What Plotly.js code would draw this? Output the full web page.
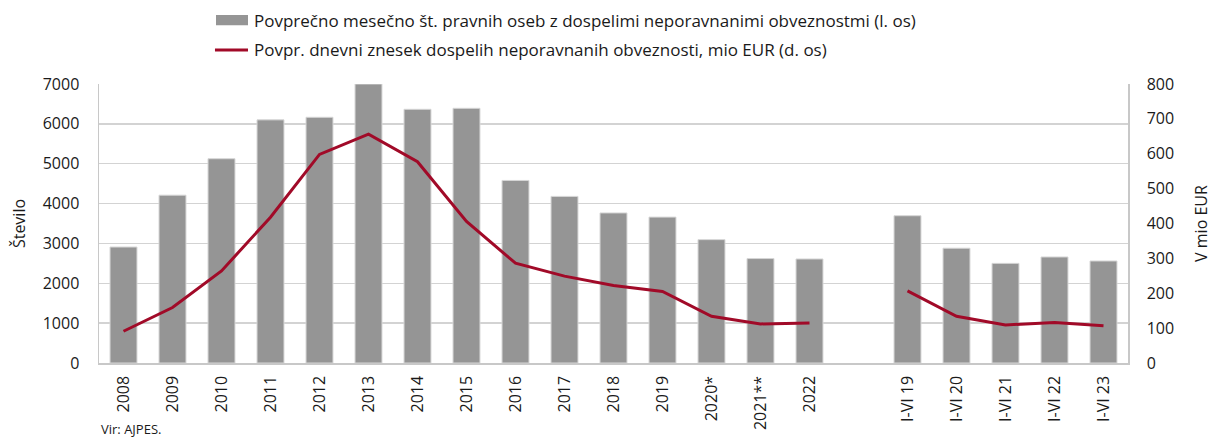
<!DOCTYPE html>
<html>
<head>
<meta charset="utf-8">
<script src="https://cdn.plot.ly/plotly-3.0.1.min.js"></script>
<style>
  html, body { margin: 0; padding: 0; background: #fff; }
  #chart { width: 1213px; height: 439px; }
</style>
</head>
<body>
<div id="chart"></div>
<script>
// categories (one blank slot separates full years from half-years)
var categories = ['2008', '2009', '2010', '2011', '2012', '2013', '2014', '2015', '2016', '2017',
  '2018', '2019', '2020*', '2021**', '2022', ' ', 'I-VI 19', 'I-VI 20', 'I-VI 21', 'I-VI 22', 'I-VI 23'];

// average monthly number of legal entities with unsettled liabilities (left axis)
var stevilo = [2910, 4210, 5125, 6100, 6165, 7000, 6365, 6390, 4580, 4180,
  3765, 3660, 3095, 2620, 2610, null, 3695, 2880, 2500, 2660, 2560];

// average daily amount of unsettled liabilities, mio EUR (right axis)
var znesek = [91, 159, 264, 418, 598, 656, 577, 406, 286, 249,
  222, 205, 134, 112, 115, null, 207, 134, 109, 116, 107];

var legendNames = [
  'Povprečno mesečno št. pravnih oseb z dospelimi neporavnanimi obveznostmi (l. os)',
  'Povpr. dnevni znesek dospelih neporavnanih obveznosti, mio EUR (d. os)'
];

var barCol = '#959595';
var lineCol = '#a10a28';

var bars = {
  x: categories,
  y: stevilo,
  type: 'bar',
  name: legendNames[0],
  marker: { color: barCol, line: { color: '#d6d6d6', width: 1 } }
};

var line = {
  x: categories,
  y: znesek,
  type: 'scatter',
  mode: 'lines',
  yaxis: 'y2',
  name: legendNames[1],
  connectgaps: false,
  line: { color: lineCol, width: 3 }
};

var data = [bars, line];

// legend drawn by hand so the bar key is a wide bar like the original
var legendShapes = [
  { type: 'rect', xref: 'paper', yref: 'paper', x0: 0.1137, x1: 0.1448, y0: 1.211, y1: 1.247,
    fillcolor: barCol, line: { width: 0 } },
  { type: 'line', xref: 'paper', yref: 'paper', x0: 0.1127, x1: 0.1448, y0: 1.122, y1: 1.122,
    line: { color: lineCol, width: 3 } }
];

var txt = { size: 17, color: '#1a1a1a' };
var gridCol = '#d3d3d3';
var layout = {
  width: 1213,
  height: 439,
  margin: { l: 99, r: 85, t: 84, b: 76 },
  paper_bgcolor: '#fff',
  plot_bgcolor: '#fff',
  font: { family: 'Open Sans, Noto Sans, sans-serif', size: 16, color: '#1a1a1a' },
  bargap: 0.45,
  showlegend: false,
  shapes: legendShapes,
  xaxis: {
    type: 'category',
    tickangle: -90,
    ticks: 'outside',
    ticklen: 5,
    tickcolor: 'rgba(0,0,0,0)',
    showline: true,
    linecolor: '#c8c8c8',
    linewidth: 1.5,
    showgrid: false,
    tickfont: { size: 16 }
  },
  yaxis: {
    range: [0, 7000],
    dtick: 1000,
    ticks: 'outside',
    ticklen: 15,
    tickcolor: 'rgba(0,0,0,0)',
    showgrid: true,
    gridcolor: gridCol,
    gridwidth: 1.5,
    showline: true,
    linecolor: '#c8c8c8',
    linewidth: 1.5,
    zeroline: false,
    tickfont: { size: 16 },
    title: { text: 'Število', standoff: 13, font: { size: 16 } }
  },
  yaxis2: {
    range: [0, 800],
    dtick: 100,
    overlaying: 'y',
    side: 'right',
    ticks: 'outside',
    ticklen: 14,
    tickcolor: 'rgba(0,0,0,0)',
    showgrid: false,
    showline: true,
    linecolor: '#c8c8c8',
    linewidth: 1.5,
    zeroline: false,
    tickfont: { size: 16 },
    title: { text: 'V mio EUR', standoff: 22, font: { size: 16 } }
  },
  annotations: [
    { text: legendNames[0], xref: 'paper', yref: 'paper', x: 0.1487, xanchor: 'left',
      y: 1.229, yanchor: 'middle', showarrow: false, font: txt },
    { text: legendNames[1], xref: 'paper', yref: 'paper', x: 0.1487, xanchor: 'left',
      y: 1.122, yanchor: 'middle', showarrow: false, font: txt },
    { text: 'Vir: AJPES.', xref: 'paper', yref: 'paper', x: 0.0, xanchor: 'left',
      y: -0.235, yanchor: 'middle', showarrow: false, font: { size: 13, color: '#1a1a1a' } }
  ]
};

Plotly.newPlot('chart', data, layout, { displayModeBar: false, staticPlot: true });
</script>
</body>
</html>
